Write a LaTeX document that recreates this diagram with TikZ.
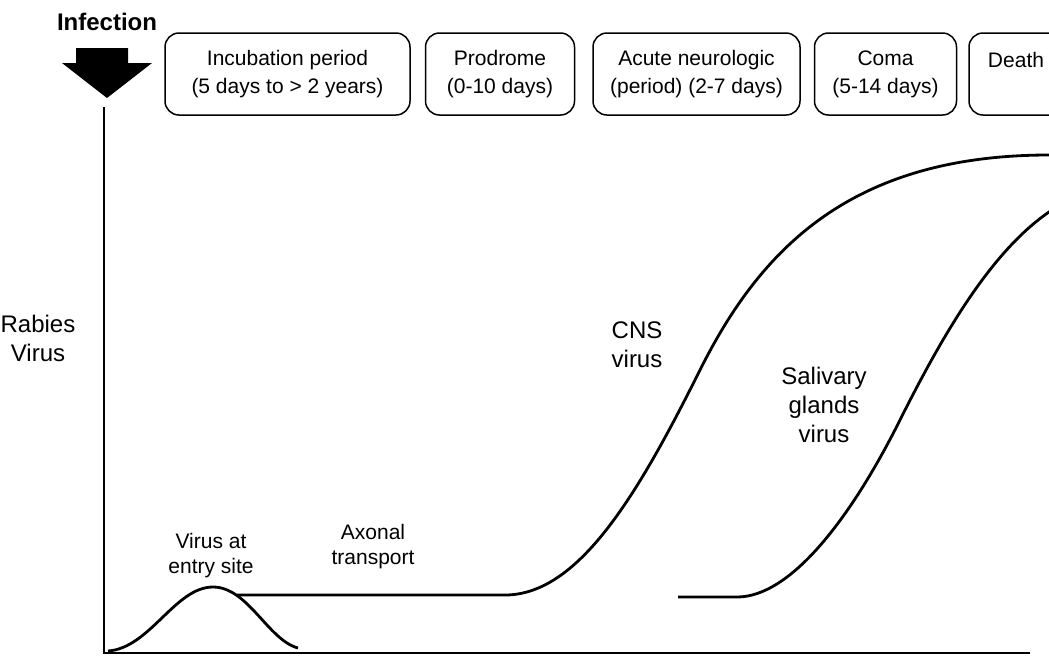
\documentclass[tikz,border=0pt]{standalone}
\usepackage{fontspec}
\setmainfont{Liberation Sans}
\usetikzlibrary{positioning}
\tikzset{%
	% Specifications for style of nodes:
	phase/.style = {rectangle, rounded corners=14pt, draw=black, line width=1.5pt, minimum height=82pt, inner sep=0pt, align=center, font=\fontsize{21}{28}\selectfont},
	note/.style = {align=center, font=\fontsize{21}{25}\selectfont},
	biglabel/.style = {align=center, font=\fontsize{24}{29}\selectfont},
	viruscurve/.style = {line width=2.8pt},
}
\begin{document}
\begin{tikzpicture}[x=1pt,y=-1pt]
		\clip (0,0) rectangle (1049,657);
		
		\node (Incubation) [phase, minimum width=245pt] at (287.5,74) {Incubation period\\(5 days to > 2 years)};
		\node (Prodrome) [phase, minimum width=149pt, right=14pt of Incubation] {Prodrome\\(0-10 days)};
		\node (Acute) [phase, minimum width=207pt, right=17pt of Prodrome] {Acute neurologic\\(period) (2-7 days)};
		\node (Coma) [phase, minimum width=142pt, right=13pt of Acute] {Coma\\(5-14 days)};
		\node (Death) [phase, minimum width=94pt, right=11pt of Coma] {Death\\\phantom{D}};
		
		\node (Infection) [anchor=base, font=\fontsize{24}{28}\selectfont\bfseries] at (107,30) {Infection};
		\fill (76,48) -- (128,48) -- (128,63) -- (152,63) -- (107,98) -- (62,63) -- (76,63) -- cycle;
		
		\coordinate (top) at (104,107);
		\coordinate (origin) at (104,653);
		\coordinate (xend) at (1030,653);
		\draw [viruscurve] (top) -- (origin) -- (xend);
		
		\node (Rabies) [biglabel] at (38,338) {Rabies\\Virus};
		\node (CNS) [biglabel] at (637,345) {CNS\\virus};
		\node (Salivary) [biglabel] at (824,405) {Salivary\\glands\\virus};
		\node (Entry) [note] at (211,556) {Virus at\\entry site};
		\node (Axonal) [note] at (373,547) {Axonal\\transport};
		
		\draw [viruscurve] (108,651) .. controls (150,648) and (175,587) .. (213,587) .. controls (248,587) and (268,640) .. (298,648);
		\draw [viruscurve] (237,595) -- (505,595) .. controls (580,595) and (640,490) .. (700,370) .. controls (760,250) and (850,155) .. (1049,155) -- (1060,155);
		\draw [viruscurve] (678,597) -- (737,597) .. controls (790,597) and (850,520) .. (900,420) .. controls (950,320) and (1000,240) .. (1060,205);
		
     \end{tikzpicture}
\end{document}
